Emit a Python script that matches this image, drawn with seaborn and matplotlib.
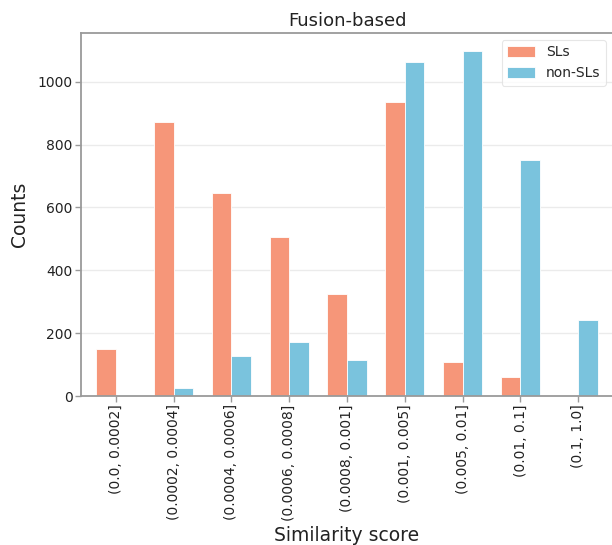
import matplotlib
matplotlib.use("Agg")
import matplotlib.pyplot as plt
import seaborn as sns
import pandas as pd

bins = ["(0.0, 0.0002]", "(0.0002, 0.0004]", "(0.0004, 0.0006]", "(0.0006, 0.0008]",
        "(0.0008, 0.001]", "(0.001, 0.005]", "(0.005, 0.01]", "(0.01, 0.1]", "(0.1, 1.0]"]
sls = [150, 873, 646, 506, 325, 936, 108, 60, 0]
non_sls = [2, 25, 127, 172, 115, 1064, 1099, 752, 242]
groups = ["SLs", "non-SLs"]
colors = ["#F69679", "#7AC3DD"]

df = pd.DataFrame({
    "bin": bins * 2,
    "count": sls + non_sls,
    "group": [groups[0]] * len(bins) + [groups[1]] * len(bins),
})

sns.set_theme(style="whitegrid")
plt.rcParams["font.family"] = ["DejaVu Sans"]

fig = plt.figure(figsize=(6.12, 5.45), dpi=100)
ax = fig.add_axes([81 / 612, (545 - 396) / 545, (613 - 81) / 612, (396 - 33) / 545])

sns.barplot(data=df, x="bin", y="count", hue="group", order=bins, hue_order=groups,
            palette=colors, saturation=1, width=0.68, edgecolor="white", linewidth=0.6, ax=ax)

ax.set_xlim(-0.6, 8.6)
ax.set_ylim(0, 1155)
ax.set_yticks([0, 200, 400, 600, 800, 1000])
ax.grid(axis="x", visible=False)
ax.grid(axis="y", color="#ebebeb", linewidth=1.0)
ax.set_axisbelow(True)
for s in ax.spines.values():
    s.set_color("#9a9a9a")
    s.set_linewidth(1.3)
ax.tick_params(axis="both", which="major", bottom=True, left=True, length=4, width=1,
               color="#9a9a9a", labelsize=10, labelcolor="#222222", pad=2)
ax.tick_params(axis="x", labelrotation=90)
ax.set_xlabel("Similarity score", fontsize=13.5, color="#222222", labelpad=4)
ax.set_ylabel("Counts", fontsize=13.5, color="#222222", labelpad=6)
ax.set_title("Fusion-based", fontsize=13, color="#222222", pad=5)

leg = ax.legend(loc="upper right", fontsize=10, frameon=True, title=None,
                handlelength=2.0, handleheight=0.8)
leg.get_frame().set_edgecolor("#e0e0e0")
leg.get_frame().set_linewidth(0.8)

fig.savefig("out.png", dpi=100)
